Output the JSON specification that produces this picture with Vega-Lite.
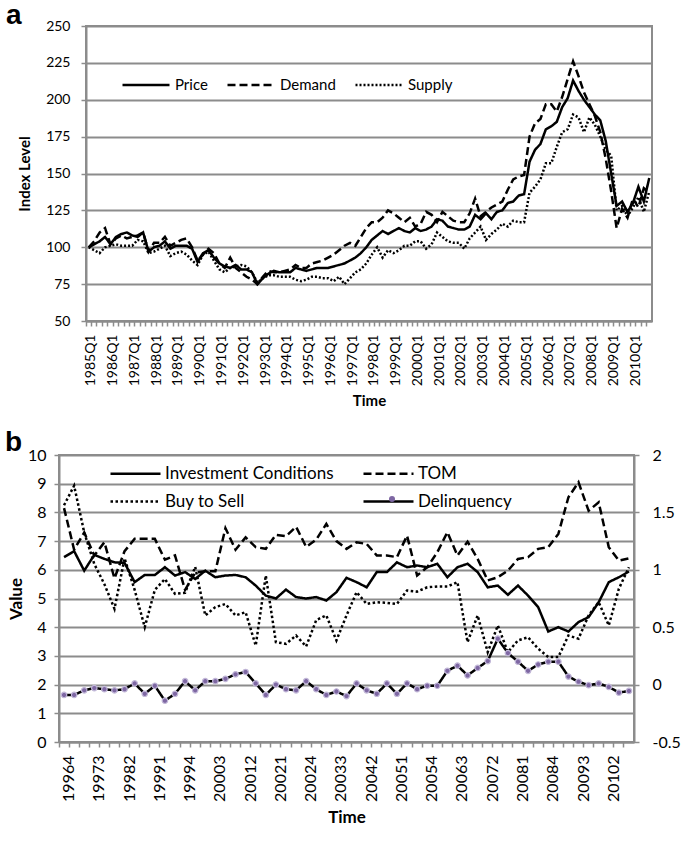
{
  "$schema": "https://vega.github.io/schema/vega-lite/v6.json",
  "padding": {"left": 4, "top": 1, "right": 2, "bottom": 2},
  "spacing": 18,
  "resolve": {"scale": {"strokeDash": "independent", "color": "independent"}, "legend": {"strokeDash": "independent", "color": "independent"}},
  "config": {
    "font": "Lato",
    "view": {"stroke": "#8c8c8c", "strokeWidth": 2},
    "axis": {
      "domainColor": "#8c8c8c", "domainWidth": 2,
      "tickColor": "#8c8c8c", "tickWidth": 1.5, "tickSize": 5,
      "gridColor": "#8c8c8c", "gridWidth": 2,
      "labelColor": "#000000", "titleColor": "#000000",
      "labelFont": "Lato", "titleFont": "Lato", "titleFontWeight": "bold"
    },
    "legend": {"labelFont": "Lato", "labelColor": "#000000", "padding": 0, "labelLimit": 400}
  },
  "vconcat": [
    {
      "title": {"text": "a", "anchor": "start", "frame": "bounds", "orient": "top", "font": "Liberation Sans", "fontSize": 28, "fontWeight": "bold", "color": "#000000", "offset": -26, "baseline": "alphabetic", "dx": -11.6, "dy": 7},
      "width": 566,
      "height": 295,
      "data": {"values": [
        {"q":"1985Q1","Price":100,"Demand":100,"Supply":100},
        {"q":"1985Q2","Price":102,"Demand":104,"Supply":98},
        {"q":"1985Q3","Price":104,"Demand":110,"Supply":96},
        {"q":"1985Q4","Price":107,"Demand":113,"Supply":100},
        {"q":"1986Q1","Price":102,"Demand":102,"Supply":101},
        {"q":"1986Q2","Price":107,"Demand":106,"Supply":102},
        {"q":"1986Q3","Price":109,"Demand":108,"Supply":101},
        {"q":"1986Q4","Price":110,"Demand":106,"Supply":101},
        {"q":"1987Q1","Price":108,"Demand":107,"Supply":101},
        {"q":"1987Q2","Price":107,"Demand":108,"Supply":105},
        {"q":"1987Q3","Price":110,"Demand":110,"Supply":104},
        {"q":"1987Q4","Price":97,"Demand":97,"Supply":96},
        {"q":"1988Q1","Price":100,"Demand":103,"Supply":97},
        {"q":"1988Q2","Price":101,"Demand":103,"Supply":99},
        {"q":"1988Q3","Price":104,"Demand":107,"Supply":101},
        {"q":"1988Q4","Price":99,"Demand":101,"Supply":94},
        {"q":"1989Q1","Price":101,"Demand":103,"Supply":96},
        {"q":"1989Q2","Price":101,"Demand":105,"Supply":97},
        {"q":"1989Q3","Price":101,"Demand":106,"Supply":95},
        {"q":"1989Q4","Price":99,"Demand":100,"Supply":91},
        {"q":"1990Q1","Price":90,"Demand":91,"Supply":88},
        {"q":"1990Q2","Price":96,"Demand":95,"Supply":95},
        {"q":"1990Q3","Price":98,"Demand":99,"Supply":97},
        {"q":"1990Q4","Price":93,"Demand":96,"Supply":91},
        {"q":"1991Q1","Price":89,"Demand":89,"Supply":85},
        {"q":"1991Q2","Price":87,"Demand":86,"Supply":83},
        {"q":"1991Q3","Price":86,"Demand":93,"Supply":86},
        {"q":"1991Q4","Price":88,"Demand":86,"Supply":87},
        {"q":"1992Q1","Price":85,"Demand":83,"Supply":88},
        {"q":"1992Q2","Price":85,"Demand":80,"Supply":87},
        {"q":"1992Q3","Price":83,"Demand":78,"Supply":83},
        {"q":"1992Q4","Price":75,"Demand":75,"Supply":76},
        {"q":"1993Q1","Price":79,"Demand":80,"Supply":79},
        {"q":"1993Q2","Price":82,"Demand":84,"Supply":81},
        {"q":"1993Q3","Price":84,"Demand":83,"Supply":81},
        {"q":"1993Q4","Price":83,"Demand":83,"Supply":80},
        {"q":"1994Q1","Price":83,"Demand":84,"Supply":80},
        {"q":"1994Q2","Price":83,"Demand":85,"Supply":80},
        {"q":"1994Q3","Price":86,"Demand":88,"Supply":78},
        {"q":"1994Q4","Price":85,"Demand":86,"Supply":77},
        {"q":"1995Q1","Price":84,"Demand":86,"Supply":78},
        {"q":"1995Q2","Price":85,"Demand":89,"Supply":80},
        {"q":"1995Q3","Price":86,"Demand":90,"Supply":80},
        {"q":"1995Q4","Price":86,"Demand":91,"Supply":79},
        {"q":"1996Q1","Price":86,"Demand":93,"Supply":79},
        {"q":"1996Q2","Price":87,"Demand":95,"Supply":77},
        {"q":"1996Q3","Price":88,"Demand":98,"Supply":80},
        {"q":"1996Q4","Price":89,"Demand":101,"Supply":75},
        {"q":"1997Q1","Price":91,"Demand":103,"Supply":79},
        {"q":"1997Q2","Price":93,"Demand":101,"Supply":83},
        {"q":"1997Q3","Price":96,"Demand":107,"Supply":85},
        {"q":"1997Q4","Price":100,"Demand":113,"Supply":89},
        {"q":"1998Q1","Price":105,"Demand":117,"Supply":95},
        {"q":"1998Q2","Price":108,"Demand":117,"Supply":100},
        {"q":"1998Q3","Price":111,"Demand":120,"Supply":93},
        {"q":"1998Q4","Price":109,"Demand":125,"Supply":98},
        {"q":"1999Q1","Price":111,"Demand":123,"Supply":96},
        {"q":"1999Q2","Price":113,"Demand":120,"Supply":98},
        {"q":"1999Q3","Price":111,"Demand":117,"Supply":101},
        {"q":"1999Q4","Price":110,"Demand":120,"Supply":101},
        {"q":"2000Q1","Price":113,"Demand":114,"Supply":104},
        {"q":"2000Q2","Price":111,"Demand":116,"Supply":104},
        {"q":"2000Q3","Price":112,"Demand":124,"Supply":99},
        {"q":"2000Q4","Price":114,"Demand":122,"Supply":102},
        {"q":"2001Q1","Price":119,"Demand":117,"Supply":110},
        {"q":"2001Q2","Price":118,"Demand":124,"Supply":107},
        {"q":"2001Q3","Price":114,"Demand":121,"Supply":104},
        {"q":"2001Q4","Price":113,"Demand":118,"Supply":103},
        {"q":"2002Q1","Price":112,"Demand":117,"Supply":103},
        {"q":"2002Q2","Price":112,"Demand":117,"Supply":99},
        {"q":"2002Q3","Price":114,"Demand":123,"Supply":106},
        {"q":"2002Q4","Price":122,"Demand":133,"Supply":110},
        {"q":"2003Q1","Price":119,"Demand":121,"Supply":114},
        {"q":"2003Q2","Price":123,"Demand":124,"Supply":105},
        {"q":"2003Q3","Price":119,"Demand":127,"Supply":109},
        {"q":"2003Q4","Price":124,"Demand":129,"Supply":112},
        {"q":"2004Q1","Price":125,"Demand":131,"Supply":116},
        {"q":"2004Q2","Price":130,"Demand":139,"Supply":114},
        {"q":"2004Q3","Price":131,"Demand":146,"Supply":118},
        {"q":"2004Q4","Price":135,"Demand":148,"Supply":117},
        {"q":"2005Q1","Price":136,"Demand":149,"Supply":117},
        {"q":"2005Q2","Price":158,"Demand":175,"Supply":137},
        {"q":"2005Q3","Price":166,"Demand":184,"Supply":141},
        {"q":"2005Q4","Price":170,"Demand":187,"Supply":146},
        {"q":"2006Q1","Price":180,"Demand":197,"Supply":157},
        {"q":"2006Q2","Price":182,"Demand":197,"Supply":157},
        {"q":"2006Q3","Price":185,"Demand":192,"Supply":168},
        {"q":"2006Q4","Price":195,"Demand":202,"Supply":178},
        {"q":"2007Q1","Price":201,"Demand":214,"Supply":180},
        {"q":"2007Q2","Price":213,"Demand":226,"Supply":190},
        {"q":"2007Q3","Price":206,"Demand":216,"Supply":188},
        {"q":"2007Q4","Price":200,"Demand":205,"Supply":178},
        {"q":"2008Q1","Price":195,"Demand":197,"Supply":188},
        {"q":"2008Q2","Price":190,"Demand":189,"Supply":183},
        {"q":"2008Q3","Price":186,"Demand":178,"Supply":175},
        {"q":"2008Q4","Price":172,"Demand":160,"Supply":166},
        {"q":"2009Q1","Price":150,"Demand":138,"Supply":162},
        {"q":"2009Q2","Price":128,"Demand":113,"Supply":125},
        {"q":"2009Q3","Price":131,"Demand":126,"Supply":128},
        {"q":"2009Q4","Price":124,"Demand":120,"Supply":121},
        {"q":"2010Q1","Price":130,"Demand":133,"Supply":127},
        {"q":"2010Q2","Price":141,"Demand":127,"Supply":134},
        {"q":"2010Q3","Price":131,"Demand":140,"Supply":124},
        {"q":"2010Q4","Price":147,"Demand":137,"Supply":138}
      ]},
      "transform": [{"fold": ["Price", "Demand", "Supply"], "as": ["series", "value"]}],
      "mark": {"type": "line", "color": "#000000", "strokeWidth": 2.5},
      "encoding": {
        "x": {
          "field": "q", "type": "ordinal", "bandPosition": 0.5,
          "scale": {"type": "band", "paddingInner": 0, "paddingOuter": 0},
          "axis": {"title": "Time", "labelAngle": -90, "labelExpr": "indexof(datum.label, 'Q1') > 0 ? datum.label : ''", "labelOverlap": false, "bandPosition": 0, "labelOffset": 2.7, "labelPadding": 8, "labelFontSize": 14, "titleFontSize": 15, "titlePadding": 8, "grid": false}
        },
        "y": {
          "field": "value", "type": "quantitative",
          "scale": {"domain": [50, 250], "nice": false, "zero": false},
          "axis": {"title": "Index Level", "values": [50, 75, 100, 125, 150, 175, 200, 225, 250], "labelFontSize": 14, "labelPadding": 11, "titleFontSize": 15, "titlePadding": 13}
        },
        "strokeDash": {
          "field": "series", "type": "nominal",
          "scale": {"domain": ["Price", "Demand", "Supply"], "range": [[1, 0], [8, 4], [2, 2]]},
          "legend": {"title": null, "orient": "none", "legendX": 35, "legendY": 34, "direction": "horizontal", "symbolType": "stroke", "symbolSize": 2209, "symbolStrokeWidth": 2.5, "symbolStrokeColor": "#000000", "labelFontSize": 15, "labelOffset": 4, "columnPadding": 14}
        }
      }
    },
    {
      "concat": [
        {"width": 1, "height": 1, "data": {"values": []}, "mark": "point", "view": {"stroke": null}},
        {
      "title": {"text": "b", "anchor": "start", "frame": "bounds", "orient": "top", "font": "Liberation Sans", "fontSize": 28, "fontWeight": "bold", "color": "#000000", "offset": -25, "baseline": "alphabetic", "dx": -2.4, "dy": 7},
      "width": 575,
      "height": 287,
      "data": {"values": [
        {"t":"19964","Investment Conditions":6.44,"TOM":8.15,"Buy to Sell":8.25,"Delinquency":-0.09},
        {"t":"19971","Investment Conditions":6.65,"TOM":6.7,"Buy to Sell":8.93,"Delinquency":-0.09},
        {"t":"19972","Investment Conditions":5.97,"TOM":7.3,"Buy to Sell":7.3,"Delinquency":-0.05},
        {"t":"19973","Investment Conditions":6.52,"TOM":6.5,"Buy to Sell":6.2,"Delinquency":-0.03},
        {"t":"19974","Investment Conditions":6.38,"TOM":6.96,"Buy to Sell":5.5,"Delinquency":-0.04},
        {"t":"19981","Investment Conditions":6.26,"TOM":5.7,"Buy to Sell":4.64,"Delinquency":-0.05},
        {"t":"19982","Investment Conditions":6.24,"TOM":6.65,"Buy to Sell":6.4,"Delinquency":-0.04},
        {"t":"19983","Investment Conditions":5.57,"TOM":7.08,"Buy to Sell":5.3,"Delinquency":0.01},
        {"t":"19984","Investment Conditions":5.82,"TOM":7.08,"Buy to Sell":4.0,"Delinquency":-0.08},
        {"t":"19991","Investment Conditions":5.82,"TOM":7.08,"Buy to Sell":5.3,"Delinquency":-0.01},
        {"t":"19992","Investment Conditions":6.09,"TOM":6.35,"Buy to Sell":5.68,"Delinquency":-0.14},
        {"t":"19993","Investment Conditions":5.8,"TOM":6.5,"Buy to Sell":5.16,"Delinquency":-0.08},
        {"t":"19994","Investment Conditions":5.92,"TOM":5.3,"Buy to Sell":5.2,"Delinquency":0.03},
        {"t":"20001","Investment Conditions":5.68,"TOM":5.9,"Buy to Sell":6.1,"Delinquency":-0.05},
        {"t":"20002","Investment Conditions":5.97,"TOM":5.95,"Buy to Sell":4.41,"Delinquency":0.03},
        {"t":"20003","Investment Conditions":5.74,"TOM":5.95,"Buy to Sell":4.7,"Delinquency":0.03},
        {"t":"20004","Investment Conditions":5.8,"TOM":7.45,"Buy to Sell":4.81,"Delinquency":0.05},
        {"t":"20011","Investment Conditions":5.82,"TOM":6.7,"Buy to Sell":4.41,"Delinquency":0.09},
        {"t":"20012","Investment Conditions":5.74,"TOM":7.13,"Buy to Sell":4.52,"Delinquency":0.11},
        {"t":"20013","Investment Conditions":5.45,"TOM":6.79,"Buy to Sell":3.36,"Delinquency":0.01},
        {"t":"20014","Investment Conditions":5.1,"TOM":6.73,"Buy to Sell":5.8,"Delinquency":-0.09},
        {"t":"20021","Investment Conditions":5.0,"TOM":7.22,"Buy to Sell":3.48,"Delinquency":0.0},
        {"t":"20022","Investment Conditions":5.31,"TOM":7.17,"Buy to Sell":3.42,"Delinquency":-0.04},
        {"t":"20023","Investment Conditions":5.05,"TOM":7.5,"Buy to Sell":3.71,"Delinquency":-0.05},
        {"t":"20024","Investment Conditions":5.0,"TOM":6.8,"Buy to Sell":3.33,"Delinquency":0.03},
        {"t":"20031","Investment Conditions":5.05,"TOM":7.05,"Buy to Sell":4.25,"Delinquency":-0.04},
        {"t":"20032","Investment Conditions":4.93,"TOM":7.6,"Buy to Sell":4.41,"Delinquency":-0.09},
        {"t":"20033","Investment Conditions":5.22,"TOM":7.0,"Buy to Sell":3.54,"Delinquency":-0.06},
        {"t":"20034","Investment Conditions":5.72,"TOM":6.73,"Buy to Sell":4.41,"Delinquency":-0.1},
        {"t":"20041","Investment Conditions":5.57,"TOM":6.96,"Buy to Sell":5.22,"Delinquency":0.01},
        {"t":"20042","Investment Conditions":5.39,"TOM":6.9,"Buy to Sell":4.81,"Delinquency":-0.05},
        {"t":"20043","Investment Conditions":5.92,"TOM":6.5,"Buy to Sell":4.87,"Delinquency":-0.08},
        {"t":"20044","Investment Conditions":5.92,"TOM":6.5,"Buy to Sell":4.85,"Delinquency":0.01},
        {"t":"20051","Investment Conditions":6.26,"TOM":6.44,"Buy to Sell":4.81,"Delinquency":-0.08},
        {"t":"20052","Investment Conditions":6.09,"TOM":7.19,"Buy to Sell":5.28,"Delinquency":0.01},
        {"t":"20053","Investment Conditions":6.15,"TOM":5.8,"Buy to Sell":5.24,"Delinquency":-0.04},
        {"t":"20054","Investment Conditions":6.09,"TOM":6.09,"Buy to Sell":5.39,"Delinquency":-0.01},
        {"t":"20061","Investment Conditions":6.21,"TOM":6.61,"Buy to Sell":5.42,"Delinquency":-0.01},
        {"t":"20062","Investment Conditions":5.74,"TOM":7.31,"Buy to Sell":5.42,"Delinquency":0.12},
        {"t":"20063","Investment Conditions":6.09,"TOM":6.5,"Buy to Sell":5.57,"Delinquency":0.165},
        {"t":"20064","Investment Conditions":6.21,"TOM":6.98,"Buy to Sell":3.48,"Delinquency":0.08},
        {"t":"20071","Investment Conditions":5.92,"TOM":6.38,"Buy to Sell":4.41,"Delinquency":0.145},
        {"t":"20072","Investment Conditions":5.39,"TOM":5.63,"Buy to Sell":3.13,"Delinquency":0.205},
        {"t":"20073","Investment Conditions":5.45,"TOM":5.74,"Buy to Sell":4.06,"Delinquency":0.4},
        {"t":"20074","Investment Conditions":5.13,"TOM":5.97,"Buy to Sell":3.13,"Delinquency":0.275},
        {"t":"20081","Investment Conditions":5.45,"TOM":6.38,"Buy to Sell":3.54,"Delinquency":0.2},
        {"t":"20082","Investment Conditions":5.1,"TOM":6.44,"Buy to Sell":3.65,"Delinquency":0.12},
        {"t":"20083","Investment Conditions":4.7,"TOM":6.73,"Buy to Sell":3.25,"Delinquency":0.175},
        {"t":"20084","Investment Conditions":3.85,"TOM":6.79,"Buy to Sell":2.96,"Delinquency":0.2},
        {"t":"20091","Investment Conditions":4.0,"TOM":7.25,"Buy to Sell":2.96,"Delinquency":0.2},
        {"t":"20092","Investment Conditions":3.85,"TOM":8.53,"Buy to Sell":3.71,"Delinquency":0.07},
        {"t":"20093","Investment Conditions":4.18,"TOM":9.05,"Buy to Sell":3.6,"Delinquency":0.025},
        {"t":"20094","Investment Conditions":4.35,"TOM":8.06,"Buy to Sell":4.41,"Delinquency":-0.005},
        {"t":"20101","Investment Conditions":4.87,"TOM":8.35,"Buy to Sell":4.87,"Delinquency":0.01},
        {"t":"20102","Investment Conditions":5.57,"TOM":6.79,"Buy to Sell":4.06,"Delinquency":-0.02},
        {"t":"20103","Investment Conditions":5.74,"TOM":6.32,"Buy to Sell":5.34,"Delinquency":-0.07},
        {"t":"20104","Investment Conditions":5.94,"TOM":6.4,"Buy to Sell":6.09,"Delinquency":-0.055}
      ]},
      "encoding": {
        "x": {
          "field": "t", "type": "ordinal", "bandPosition": 0.5,
          "scale": {"type": "band", "paddingInner": 0, "paddingOuter": 0},
          "axis": {"title": "Time", "labelAngle": -90, "labelExpr": "indexof(['19964','19973','19982','19991','19994','20003','20012','20021','20024','20033','20042','20051','20054','20063','20072','20081','20084','20093','20102'], datum.label) >= 0 ? datum.label : ''", "labelOverlap": false, "bandPosition": 0, "labelOffset": 5, "labelPadding": 8, "labelFontSize": 16, "titleFontSize": 17, "titlePadding": 8, "grid": false}
        }
      },
      "layer": [
        {
          "transform": [{"fold": ["Investment Conditions", "TOM", "Buy to Sell"], "as": ["series", "value"]}],
          "mark": {"type": "line", "color": "#000000", "strokeWidth": 2.5},
          "encoding": {
            "y": {
              "field": "value", "type": "quantitative",
              "scale": {"domain": [0, 10], "nice": false},
              "axis": {"title": "Value", "values": [0, 1, 2, 3, 4, 5, 6, 7, 8, 9, 10], "labelFontSize": 16, "labelPadding": 8, "titleFontSize": 17, "titlePadding": 2}
            },
            "strokeDash": {
              "field": "series", "type": "nominal",
              "scale": {"domain": ["Investment Conditions", "TOM", "Buy to Sell", "Delinquency"], "range": [[1, 0], [8, 4], [2.5, 2.5], [1, 0]]},
              "legend": {"title": null, "orient": "none", "legendX": 38, "legendY": 7, "columns": 2, "direction": "horizontal", "symbolType": "M-2.5,0H2.5", "symbolSize": 400, "symbolStrokeWidth": 2.5, "symbolStrokeColor": "#000000", "labelFontSize": 17, "labelOffset": 18, "columnPadding": 24, "rowPadding": 8}
            }
          }
        },
        {
          "encoding": {
            "y": {
              "field": "dval", "type": "quantitative",
              "scale": {"domain": [-0.5, 2], "nice": false, "zero": false},
              "axis": {"orient": "right", "title": null, "values": [-0.5, 0, 0.5, 1, 1.5, 2], "labelFontSize": 16, "labelPadding": 13, "grid": false, "labelExpr": "datum.value < 0 ? '-' + (-datum.value) : '' + datum.value"}
            }
          },
          "layer": [
            {
              "transform": [{"fold": ["Delinquency"], "as": ["series", "dval"]}],
              "mark": {"type": "line", "color": "#000000", "strokeWidth": 2.5},
              "encoding": {
                "strokeDash": {
                  "field": "series", "type": "nominal",
                  "scale": {"domain": ["Investment Conditions", "TOM", "Buy to Sell", "Delinquency"], "range": [[1, 0], [8, 4], [2.5, 2.5], [1, 0]]}
                }
              }
            },
            {
              "transform": [{"fold": ["Delinquency"], "as": ["dot", "dval"]}],
              "mark": {"type": "point", "filled": true, "size": 30, "opacity": 1, "stroke": "#c2b8d8", "strokeWidth": 1.2},
              "encoding": {
                "color": {
                  "field": "dot", "type": "nominal",
                  "scale": {"domain": ["Delinquency"], "range": ["#7e67a3"]},
                  "legend": {"title": null, "orient": "none", "legendX": 303, "legendY": 41, "symbolType": "circle", "symbolSize": 36, "symbolStrokeWidth": 0, "labelExpr": "''", "labelFontSize": 6}
                }
              }
            }
          ]
        }
      ],
      "resolve": {"scale": {"y": "independent"}}
        }
      ],
      "columns": 2,
      "align": "none",
      "spacing": -83
    }
  ]
}
